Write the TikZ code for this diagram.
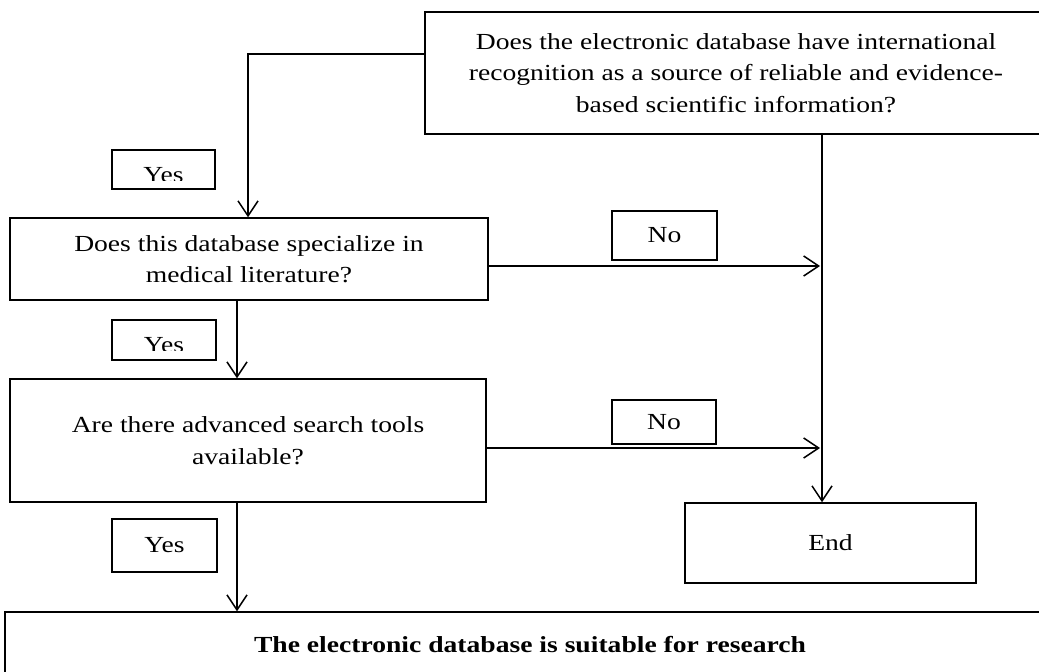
\documentclass[tikz,border=0pt]{standalone}
\usepackage{fontspec}
\setmainfont{Liberation Serif}[FakeStretch=1.2]
\usetikzlibrary{arrows,arrows.meta,positioning,calc}
\tikzset{font=\fontsize{23}{31.5}\selectfont}
\tikzset{every node/.append style={transform shape=false}}
\tikzset{box/.style={draw, line width=1.5pt, inner sep=0pt, align=center}}
\tikzset{tag/.style={draw, line width=1.5pt, inner sep=0pt}}
\tikzset{arr/.style={line width=1.5pt,
    -{Straight Barb[length=15pt,width=20pt,line width=1.5pt]}}}

\begin{document}
\begin{tikzpicture}[x=1pt,y=-1pt]
  \useasboundingbox (0,0) rectangle (1039,672);
  \clip (0,0) rectangle (1039,672);
  % question boxes
  \node[box, minimum width=622, minimum height=122] (top) at (736,73)
  {Does the electronic database have international\\
    recognition as a source of reliable and evidence-\\
    based scientific information?};
  \node[box, minimum width=478, minimum height=82] (q1) at (249,259)
  {Does this database specialize in\\ medical literature?};
  \node[box, minimum width=476, minimum height=123] (q2) at (248,440.5)
  {Are there advanced search tools\\ available?};
  \node[box, minimum width=291, minimum height=80] (end) at (830.5,543) {End};
  \node[box, minimum width=1050, minimum height=66] (res) at (530,645)
  {\bfseries The electronic database is suitable for research};
  % yes / no tags
  \node[tag, minimum width=103, minimum height=39] (yes1) at (163.5,169.5) {};
  \begin{scope}
    \clip (yes1.north west) rectangle ($(yes1.south east)+(0,-9)$);
    \node[anchor=base, inner sep=0pt] (yes1t) at (163.5,182) {Yes};
  \end{scope}
  \node[tag, minimum width=104, minimum height=40] (yes2) at (164,340) {};
  \begin{scope}
    \clip (yes2.north west) rectangle ($(yes2.south east)+(0,-10)$);
    \node[anchor=base, inner sep=0pt] (yes2t) at (164,352) {Yes};
  \end{scope}
  \node[tag, minimum width=105, minimum height=53] (yes3) at (164.5,545.5) {Yes};
  \node[tag, minimum width=105, minimum height=49] (no1) at (664.5,235.5) {No};
  \node[tag, minimum width=104, minimum height=44] (no2) at (664,422) {No};
  % connectors
  \coordinate (t1) at (425,54);
  \coordinate (t2) at (248,54);
  \coordinate (t3) at (822,134);
  \coordinate (d1) at (237,0);
  \draw[arr] (t1) -- (t2) -- (t2 |- q1.north);
  \draw[arr] (t3) -- (t3 |- end.north);
  \draw[arr] ($(q1.east)+(0,7)$) -- ($(q1.east -| t3)+(-2,7)$);
  \draw[arr] ($(q2.east)+(0,7.5)$) -- ($(q2.east -| t3)+(-2,7.5)$);
  \draw[arr] (q1.south -| d1) -- (q2.north -| d1);
  \draw[arr] (q2.south -| d1) -- (res.north -| d1);
\end{tikzpicture}
\end{document}
